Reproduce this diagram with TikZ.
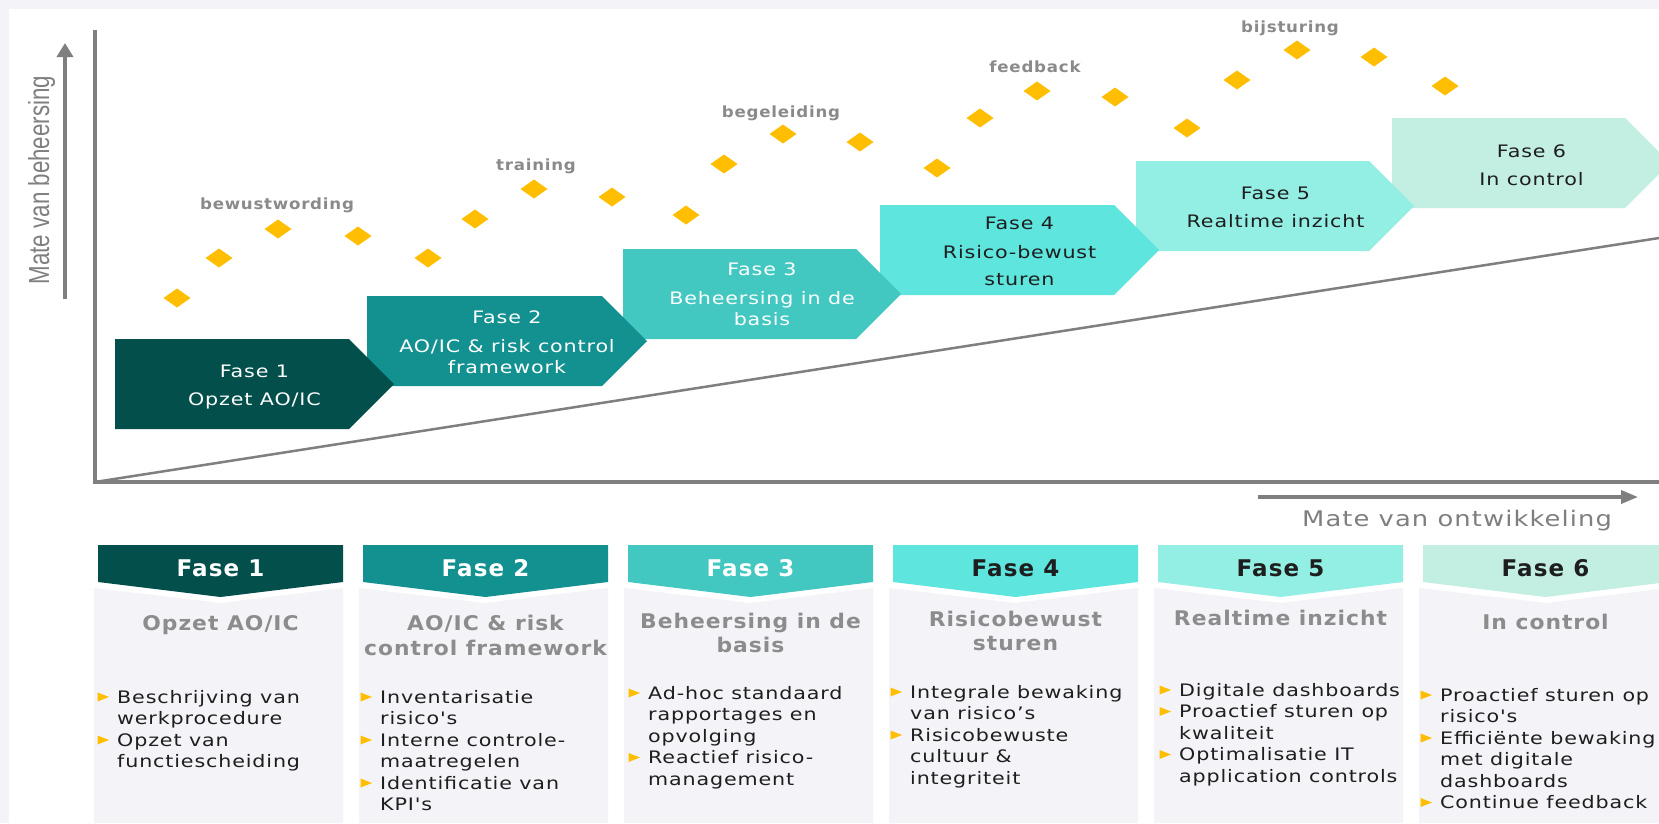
\documentclass[tikz,border=0pt]{standalone}
\usepackage{fontspec}
\usetikzlibrary{arrows.meta}

% Fonts: a widened, tracked sans for most text, a narrow one for the vertical axis
\newfontfamily\boxfont[FakeStretch=1.2,LetterSpace=5]{DejaVu Sans}
\newfontfamily\greyfont[FakeStretch=1.08,LetterSpace=5]{DejaVu Sans}
\newfontfamily\headfont[LetterSpace=5]{DejaVu Sans}
\newfontfamily\axisfont[FakeStretch=0.77]{Liberation Sans}

\definecolor{bg}{HTML}{F3F3F8}
\definecolor{axisgray}{HTML}{7F7F7F}
\definecolor{labelgray}{HTML}{8A8A8A}
\definecolor{titlegray}{HTML}{8C8C8C}
\definecolor{gold}{HTML}{FFBF00}
\definecolor{ink}{HTML}{1E1E1E}
\definecolor{faseA}{HTML}{034F4C}
\definecolor{faseB}{HTML}{129190}
\definecolor{faseC}{HTML}{42C8C1}
\definecolor{faseD}{HTML}{5EE5DE}
\definecolor{faseE}{HTML}{93EFE4}
\definecolor{faseF}{HTML}{C3EEE2}

% arrow-shaped phase block: colour, left, top, right end of the straight part
\newcommand\chevron[4]{%
  \fill[#1] (#2,#3) -- (#4,#3) -- ({#4+45},{#3+45}) -- (#4,{#3+90})
    -- (#2,{#3+90}) -- cycle;}

% header band with a shallow point plus the light card below it: colour, left
\newcommand\cardhead[2]{%
  \fill[#1] (#2,545) -- ({#2+245},545) -- ({#2+245},582) -- ({#2+122.5},597)
    -- (#2,582) -- cycle;
  \fill[bg] ({#2-4},588) -- ({#2+122.5},603) -- ({#2+245},588)
    -- ({#2+245},823) -- ({#2-4},823) -- cycle;}

% bullet list, one node per line: name prefix, text x, first baseline, flag/text list
\newcommand\bulletcol[4]{%
  \foreach [count=\k] \f/\t in {#4} {
    \node[item] (#1-\k) at ({#2},{#3+21.5*(\k-1)}) {\t};
    \ifnum\f=1
      \fill[gold] ({#2-19.5},{#3+21.5*(\k-1)-10.5}) -- ({#2-19.5},{#3+21.5*(\k-1)-1.5})
        -- ({#2-8},{#3+21.5*(\k-1)-6}) -- cycle;
    \fi
  }}

\begin{document}
\begin{tikzpicture}[x=1pt,y=-1pt,
  chevtext/.style={anchor=base, inner sep=0pt, font=\boxfont\fontsize{17.2}{20}\selectfont},
  lighttext/.style={chevtext, text=white},
  darktext/.style={chevtext, text=ink},
  phaselabel/.style={anchor=base, inner sep=0pt, text=labelgray,
    font=\greyfont\bfseries\fontsize{15.4}{18}\selectfont},
  headtext/.style={anchor=base, inner sep=0pt, font=\headfont\bfseries\fontsize{23}{26}\selectfont},
  cardtitle/.style={anchor=base, inner sep=0pt, text=titlegray,
    font=\greyfont\bfseries\fontsize{20.2}{24}\selectfont},
  item/.style={anchor=base west, inner sep=0pt, text=ink,
    font=\boxfont\fontsize{17.2}{20}\selectfont},
  axisline/.style={draw=axisgray, line width=4pt},
]
\useasboundingbox (0,0) rectangle (1659,823);

% background and white panel
\fill[bg] (0,0) rectangle (1659,823);
\fill[white] (9,9) rectangle (1659,823);

% axes and the rising baseline
\coordinate (origin) at (95,482);
\coordinate (yend) at (95,30);
\coordinate (xend) at (1659,482);
\coordinate (dend) at (1659,238);
\draw[axisline] (yend) -- (origin) -- (xend);
\draw[draw=axisgray, line width=2.5pt] (origin) -- (dend);

% axis arrows and their captions
\coordinate (ytail) at (65,299);
\coordinate (yhead) at (65,43);
\draw[axisgray, line width=4.5pt, -{Triangle[width=16pt,length=14pt]}] (ytail) -- (yhead);
\node[rotate=90, anchor=base, inner sep=0pt, text=axisgray,
  font=\axisfont\fontsize{29}{30}\selectfont] (ylabel) at (49,180) {Mate van beheersing};

\coordinate (xtail) at (1258,497);
\coordinate (xhead) at (1638,497);
\draw[axisgray, line width=3.5pt, -{Triangle[width=13pt,length=17pt]}] (xtail) -- (xhead);
\node[anchor=base, inner sep=0pt, text=axisgray,
  font=\boxfont\fontsize{21.5}{24}\selectfont] (xlabel) at (1457,526) {Mate van ontwikkeling};

% dotted waves of diamonds
\foreach \x/\y in {177/298, 219/258, 278/229, 358/236, 428/258, 475/219, 534/189,
  612/197, 686/215, 724/164, 783/134, 860/142, 937/168, 980/118, 1037/91,
  1115/97, 1187/128, 1237/80, 1297/50, 1374/57, 1445/86}
  \fill[gold] (\x,\y) +(-13.5,0) -- +(0,-9.5) -- +(13.5,0) -- +(0,9.5) -- cycle;

\node[phaselabel] (w1) at (277,209) {bewustwording};
\node[phaselabel] (w2) at (536,170) {training};
\node[phaselabel] (w3) at (781,117) {begeleiding};
\node[phaselabel] (w4) at (1035,72) {feedback};
\node[phaselabel] (w5) at (1290,32) {bijsturing};

% phase blocks, later ones first so each point lies on top of the next block
\chevron{faseF}{1392}{118}{1625}
\chevron{faseE}{1136}{161}{1369}
\chevron{faseD}{880}{205}{1114}
\chevron{faseC}{623}{249}{856}
\chevron{faseB}{367}{296}{602}
\chevron{faseA}{115}{339}{349}

\node[lighttext] (p1a) at (254.5,377) {Fase 1};
\node[lighttext] (p1b) at (254.5,405) {Opzet AO/IC};
\node[lighttext] (p2a) at (507,323) {Fase 2};
\node[lighttext] (p2b) at (507,352) {AO/IC \& risk control};
\node[lighttext] (p2c) at (507,373) {framework};
\node[lighttext] (p3a) at (762,275) {Fase 3};
\node[lighttext] (p3b) at (762,304) {Beheersing in de};
\node[lighttext] (p3c) at (762,325) {basis};
\node[darktext] (p4a) at (1019.5,229) {Fase 4};
\node[darktext] (p4b) at (1019.5,258) {Risico-bewust};
\node[darktext] (p4c) at (1019.5,285) {sturen};
\node[darktext] (p5a) at (1275.5,199) {Fase 5};
\node[darktext] (p5b) at (1275.5,227) {Realtime inzicht};
\node[darktext] (p6a) at (1531.5,157) {Fase 6};
\node[darktext] (p6b) at (1531.5,185) {In control};

% phase cards
\cardhead{faseA}{98}
\cardhead{faseB}{363}
\cardhead{faseC}{628}
\cardhead{faseD}{893}
\cardhead{faseE}{1158}
\cardhead{faseF}{1423}

\node[headtext, text=white] (h1) at (220.5,576) {Fase 1};
\node[headtext, text=white] (h2) at (485.5,576) {Fase 2};
\node[headtext, text=white] (h3) at (750.5,576) {Fase 3};
\node[headtext, text=ink] (h4) at (1015.5,576) {Fase 4};
\node[headtext, text=ink] (h5) at (1280.5,576) {Fase 5};
\node[headtext, text=ink] (h6) at (1545.5,576) {Fase 6};

\node[cardtitle] (t1) at (220.5,630.5) {Opzet AO/IC};
\node[cardtitle] (t2a) at (485.5,630.5) {AO/IC \& risk};
\node[cardtitle] (t2b) at (485.5,655.5) {control framework};
\node[cardtitle] (t3a) at (750.5,628.5) {Beheersing in de};
\node[cardtitle] (t3b) at (750.5,652.5) {basis};
\node[cardtitle] (t4a) at (1015.5,626.5) {Risicobewust};
\node[cardtitle] (t4b) at (1015.5,650.5) {sturen};
\node[cardtitle] (t5) at (1280.5,625.5) {Realtime inzicht};
\node[cardtitle] (t6) at (1545.5,629.5) {In control};

\bulletcol{c1}{117}{703}{1/Beschrijving van, 0/werkprocedure, 1/Opzet van, 0/functiescheiding}
\bulletcol{c2}{380}{703}{1/Inventarisatie, 0/risico's, 1/Interne controle-, 0/maatregelen,
  1/Identificatie van, 0/KPI's}
\bulletcol{c3}{648}{699}{1/Ad-hoc standaard, 0/rapportages en, 0/opvolging,
  1/Reactief risico-, 0/management}
\bulletcol{c4}{910}{698}{1/Integrale bewaking, 0/van risico’s, 1/Risicobewuste,
  0/cultuur \&, 0/integriteit}
\bulletcol{c5}{1179}{696}{1/Digitale dashboards, 1/Proactief sturen op, 0/kwaliteit,
  1/Optimalisatie IT, 0/application controls}
\bulletcol{c6}{1440}{701}{1/Proactief sturen op, 0/risico's, 1/Efficiënte bewaking,
  0/met digitale, 0/dashboards, 1/Continue feedback}

\end{tikzpicture}
\end{document}
